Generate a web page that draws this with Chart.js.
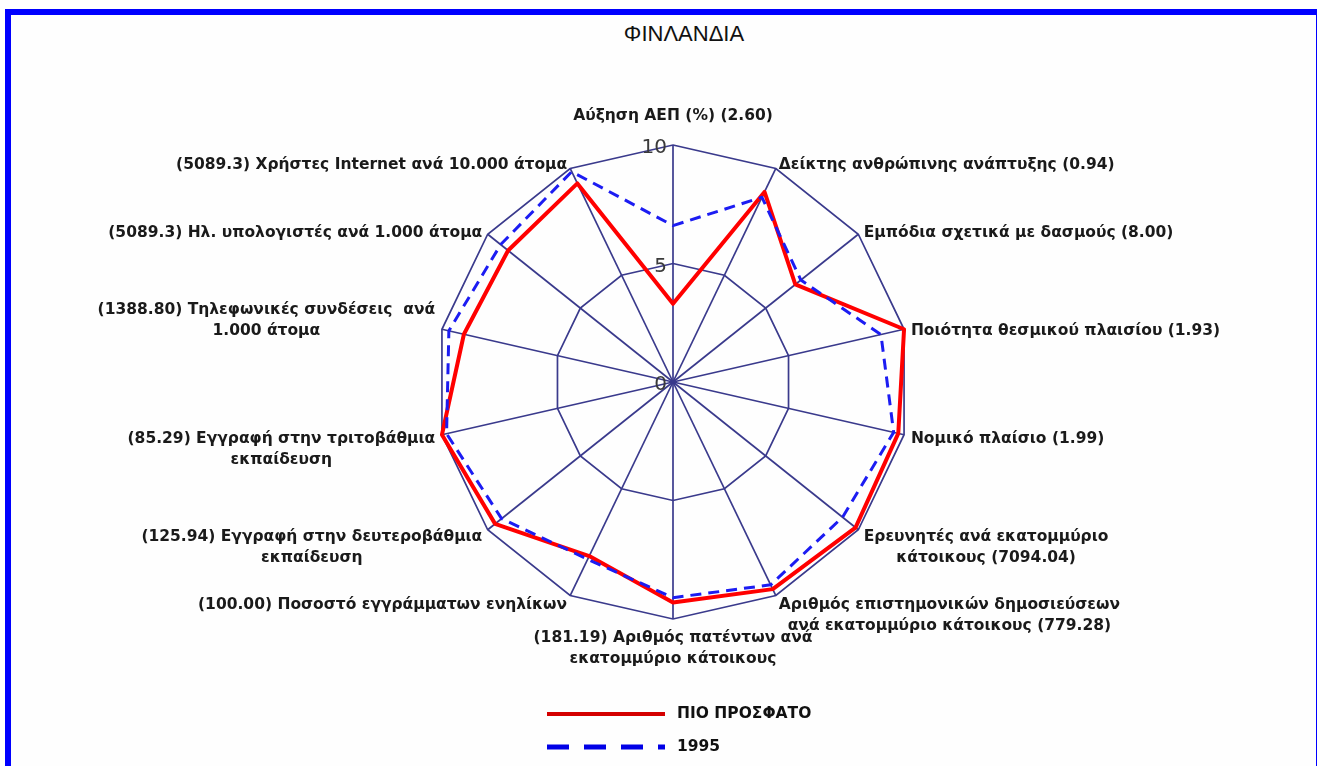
<!DOCTYPE html>
<html lang="el">
<head>
<meta charset="utf-8">
<title>ΦΙΝΛΑΝΔΙΑ</title>
<script src="https://cdn.jsdelivr.net/npm/chart.js@4.4.1/dist/chart.umd.min.js"></script>
<style>
  html, body { margin: 0; padding: 0; background: #fff; }
  #page { position: relative; width: 1317px; height: 766px; overflow: hidden; background: #fff; }
  #frame { position: absolute; left: 5px; top: 9px; right: 0; bottom: -10px;
           border-left: 6px solid #0000ff; border-top: 6px solid #0000ff; border-right: 1px solid #0000ff;
           background: #fefefe; }
  #title { position: absolute; top: 21px; left: 51px; width: 1266px; text-align: center;
           font: 22px "Liberation Sans", Arial, sans-serif; color: #111; }
  #wrap { position: absolute; left: 0; top: 0; width: 1317px; height: 766px; }
</style>
</head>
<body>
<div id="page">
  <div id="frame"></div>
  <div id="title">ΦΙΝΛΑΝΔΙΑ</div>
  <div id="wrap"><canvas id="radar" width="1317" height="766"></canvas></div>
</div>
<script>
// axis labels, clockwise from the top
const axisLabels = [
  'Αύξηση ΑΕΠ (%) (2.60)',
  'Δείκτης ανθρώπινης ανάπτυξης (0.94)',
  'Εμπόδια σχετικά με δασμούς (8.00)',
  'Ποιότητα θεσμικού πλαισίου (1.93)',
  'Νομικό πλαίσιο (1.99)',
  ['Ερευνητές ανά εκατομμύριο', 'κάτοικους (7094.04)'],
  ['Αριθμός επιστημονικών δημοσιεύσεων', 'ανά εκατομμύριο κάτοικους (779.28)'],
  ['(181.19) Αριθμός πατέντων ανά', 'εκατομμύριο κάτοικους'],
  '(100.00) Ποσοστό εγγράμματων ενηλίκων',
  ['(125.94) Εγγραφή στην δευτεροβάθμια', 'εκπαίδευση'],
  ['(85.29) Εγγραφή στην τριτοβάθμια', 'εκπαίδευση'],
  ['(1388.80) Τηλεφωνικές συνδέσεις  ανά', '1.000 άτομα'],
  '(5089.3) Ηλ. υπολογιστές ανά 1.000 άτομα',
  '(5089.3) Χρήστες Internet ανά 10.000 άτομα'
];
const recentValues = [3.3, 8.9, 6.6, 10.0, 9.75, 9.85, 9.7, 9.3, 8.15, 9.6, 10.0, 9.05, 8.9, 9.3];
const values1995   = [6.6, 8.65, 6.9, 9.0, 9.55, 9.15, 9.5, 9.1, 8.3, 9.25, 9.8, 9.7, 9.3, 9.85];
const tickValues = [0, 5, 10];

const LABEL_FONT = 'bold 15.5px "DejaVu Sans", Verdana, sans-serif';
const GRID = '#3a3a8c';

// draws the category labels next to each spoke
const axisLabelPlugin = {
  id: 'axisLabels',
  afterDraw(chart) {
    const r = chart.scales.r, ctx = chart.ctx;
    const n = chart.data.labels.length, lh = 21;
    ctx.save();
    ctx.font = LABEL_FONT;
    ctx.fillStyle = '#1a1a1a';
    ctx.textBaseline = 'middle';
    ctx.textAlign = 'center';
    chart.data.labels.forEach((lab, i) => {
      const lines = Array.isArray(lab) ? lab : [lab];
      const p = r.getPointPosition(i, r.drawingArea + 7);
      const deg = Math.round(i * 360 / n);
      const w = Math.max(...lines.map(l => ctx.measureText(l).width));
      let left;
      if (deg === 0 || deg === 180) left = p.x - w / 2;
      else if (deg < 180) left = p.x;
      else left = p.x - w;
      let y0;
      if (deg === 0) y0 = p.y - 22 - (lines.length - 1) * lh;
      else if (deg === 180) y0 = p.y + 12;
      else if (deg < 90 || deg > 270) y0 = p.y + 3 - (lines.length - 1) * lh;
      else y0 = p.y + 3;
      lines.forEach((l, k) => ctx.fillText(l, left + w / 2, y0 + k * lh));
    });
    ctx.restore();
  }
};

// scale numbers along the top spoke
const tickPlugin = {
  id: 'tickNumbers',
  afterDraw(chart) {
    const r = chart.scales.r, ctx = chart.ctx;
    ctx.save();
    ctx.font = '20px "DejaVu Sans", sans-serif';
    ctx.fillStyle = '#3a3a3a';
    ctx.textAlign = 'right';
    ctx.textBaseline = 'middle';
    tickValues.forEach(v => {
      const d = r.getDistanceFromCenterForValue(v);
      ctx.fillText(String(v), r.xCenter - 6, r.yCenter - d + 3);
    });
    ctx.restore();
  }
};

// legend stacked under the chart
const stackedLegend = {
  id: 'stackedLegend',
  afterDraw(chart) {
    const r = chart.scales.r, ctx = chart.ctx;
    const x0 = r.xCenter - 126, len = 118;
    let y = chart.chartArea.bottom + 95;
    chart.data.datasets.forEach(ds => {
      ctx.save();
      ctx.strokeStyle = ds.legendColor;
      ctx.lineWidth = ds.legendWidth;
      ctx.setLineDash(ds.legendDash);
      ctx.beginPath();
      ctx.moveTo(x0, y);
      ctx.lineTo(x0 + len, y);
      ctx.stroke();
      ctx.setLineDash([]);
      ctx.font = LABEL_FONT;
      ctx.fillStyle = '#111';
      ctx.textAlign = 'left';
      ctx.textBaseline = 'middle';
      ctx.fillText(ds.label, x0 + len + 12, y);
      ctx.restore();
      y += 33;
    });
  }
};

new Chart(document.getElementById('radar'), {
  type: 'radar',
  data: {
    labels: axisLabels,
    datasets: [
      { label: 'ΠΙΟ ΠΡΟΣΦΑΤΟ', data: recentValues, borderColor: '#ff0000', borderWidth: 4,
        fill: false, order: 2, legendColor: '#d40000', legendWidth: 4, legendDash: [] },
      { label: '1995', data: values1995, borderColor: '#1c1cf2', borderWidth: 3, borderDash: [11, 7],
        fill: false, order: 1, legendColor: '#0000e6', legendWidth: 5, legendDash: [22, 15] }
    ]
  },
  options: {
    responsive: false,
    animation: false,
    layout: { padding: { top: 145, bottom: 147, left: 30, right: 0 } },
    plugins: { legend: { display: false }, tooltip: { enabled: false }, title: { display: false } },
    elements: { line: { tension: 0, borderJoinStyle: 'round' }, point: { radius: 0, hoverRadius: 0 } },
    scales: {
      r: {
        min: 0, max: 10,
        ticks: { display: false, stepSize: 5 },
        pointLabels: { display: false },
        grid: { color: GRID, lineWidth: 1.7 },
        angleLines: { color: GRID, lineWidth: 1.7 }
      }
    }
  },
  plugins: [axisLabelPlugin, tickPlugin, stackedLegend]
});
</script>
</body>
</html>
